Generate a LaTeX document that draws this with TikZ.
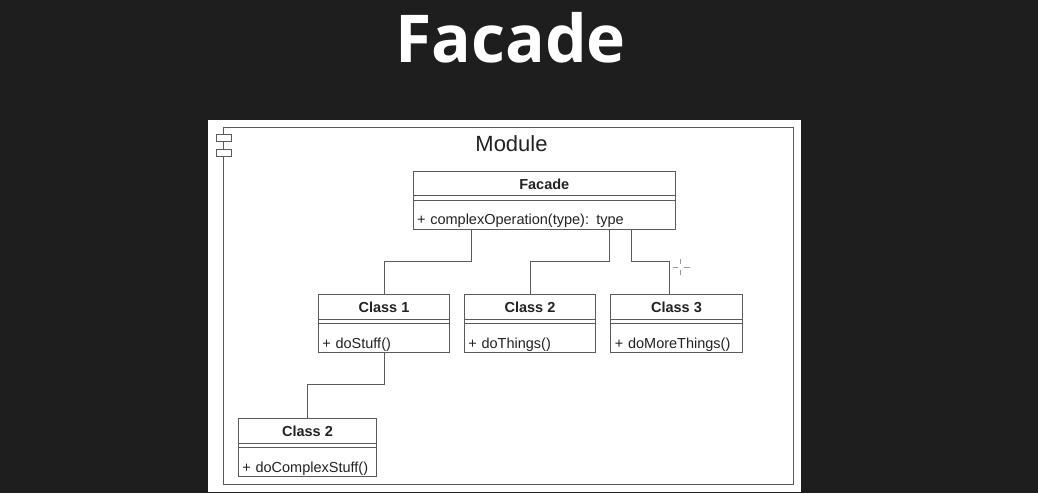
\documentclass[tikz,border=0pt]{standalone}
\usepackage{fontspec}
\setmainfont{Liberation Sans}
\newfontfamily\titlefont{Open Sans}
\usetikzlibrary{calc,positioning}
\definecolor{screen}{HTML}{1E1E1E}
\definecolor{umlline}{HTML}{5A5A5A}
\definecolor{umltext}{HTML}{222222}

\begin{document}
\begin{tikzpicture}[
	x=1pt, y=-1pt,
	node distance = 0pt,
	base/.style = {draw=umlline, line width=1pt, outer sep=0pt, inner sep=0pt,
								 text=umltext, fill=white},
	classname/.style = {base, minimum height=24.5pt, font=\fontsize{14.5}{16}\selectfont\bfseries,
											text height=13pt, text depth=2pt},
	classgap/.style = {base, minimum height=4.5pt},
	classops/.style = {base, minimum height=29pt, font=\fontsize{14.5}{16}\selectfont,
										 align=left, text height=20pt, text depth=0pt},
	link/.style = {draw=umlline, line width=1pt},
	tick/.style = {draw=gray!80, line width=1pt}]

\path [fill=screen, use as bounding box] (0,0) rectangle (1038,493);
\node (title) [text=white, font=\fontsize{66}{72}\selectfont\titlefont\bfseries] at (510.5,38) {Facade};

\node (panel) [fill=white, minimum width=593pt, minimum height=372pt, inner sep=0pt] at (504.5,306) {};
\node (module) [base, fill=none, minimum width=570pt, minimum height=357pt] at (508,305.5) {};
\node (tab-1) [base, minimum width=15pt, minimum height=7pt] at (223.5,137.5) {};
\node (tab-2) [base, minimum width=15pt, minimum height=7pt] at (223.5,152.5) {};
\node (module-name) [text=umltext, font=\fontsize{22}{24}\selectfont] at (511.5,144) {Module};

% facade
\node (facade) [classname, minimum width=262.5pt] at (544.25,183.5) {Facade};
\node (facade-gap) [classgap, minimum width=262.5pt, below=of facade] {};
\node (facade-ops) [classops, minimum width=262.5pt, text width=254.5pt, below=of facade-gap] {+ complexOperation(type): type};

% classes
\node (class1) [classname, minimum width=131.5pt] at (384,307) {Class 1};
\node (class1-gap) [classgap, minimum width=131.5pt, below=of class1] {};
\node (class1-ops) [classops, minimum width=131.5pt, text width=123.5pt, below=of class1-gap] {+ doStuff()};

\node (class2) [classname, minimum width=131.5pt] at (530,307) {Class 2};
\node (class2-gap) [classgap, minimum width=131.5pt, below=of class2] {};
\node (class2-ops) [classops, minimum width=131.5pt, text width=123.5pt, below=of class2-gap] {+ doThings()};

\node (class3) [classname, minimum width=131.5pt] at (676.5,307) {Class 3};
\node (class3-gap) [classgap, minimum width=131.5pt, below=of class3] {};
\node (class3-ops) [classops, minimum width=131.5pt, text width=123.5pt, below=of class3-gap] {+ doMoreThings()};

\node (sub2) [classname, minimum width=138.5pt] at (307.5,431) {Class 2};
\node (sub2-gap) [classgap, minimum width=138.5pt, below=of sub2] {};
\node (sub2-ops) [classops, minimum width=138.5pt, text width=130.5pt, below=of sub2-gap] {+ doComplexStuff()};

%%
\draw [link] ($(facade-ops.south west)!0.224!(facade-ops.south east)$) -- ++(0,32) -| (class1.north);
\draw [link] ($(facade-ops.south west)!0.749!(facade-ops.south east)$) -- ++(0,32) -| (class2.north);
\draw [link] ($(facade-ops.south west)!0.833!(facade-ops.south east)$) -- ++(0,32) -| ($(class3.north)+(-7.5,0)$);
\draw [link] (class1-ops.south) -- ++(0,32) -| (sub2.north);

% cursor
\coordinate (cursor) at (680.5,267);
\draw [tick] ($(cursor)+(-8,0)$) -- ($(cursor)+(-3,0)$) ($(cursor)+(3,0)$) -- ($(cursor)+(9,0)$)
	($(cursor)+(0,-8)$) -- ($(cursor)+(0,-3)$) ($(cursor)+(0,3)$) -- ($(cursor)+(0,8)$);
\end{tikzpicture}
\end{document}
